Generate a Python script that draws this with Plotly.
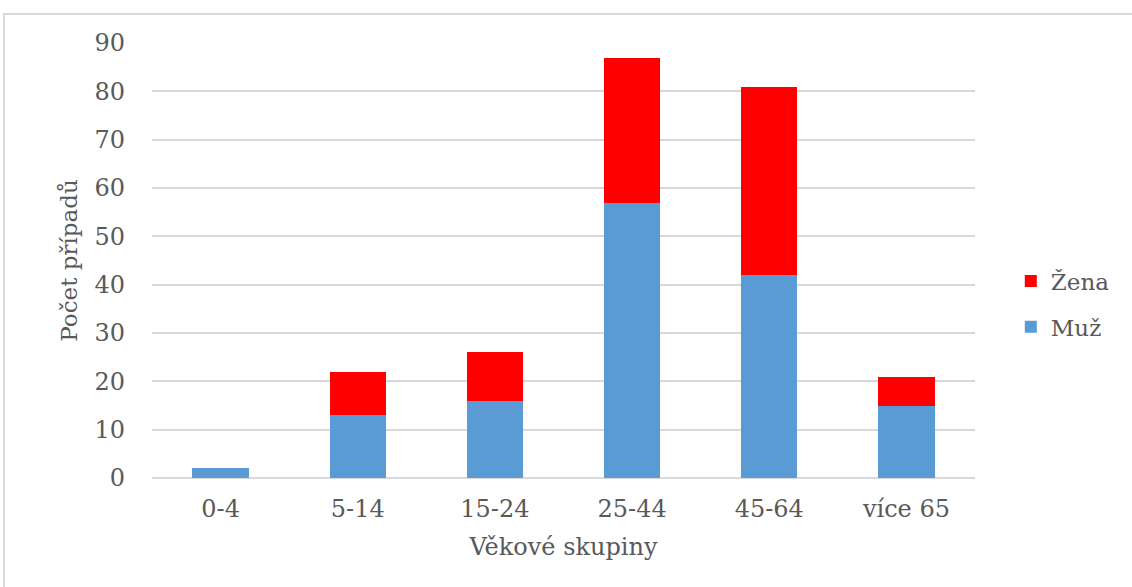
import plotly.graph_objects as go

# Age groups and number of cases by sex
age_groups = ["0-4", "5-14", "15-24", "25-44", "45-64", "více 65"]
muz = [2, 13, 16, 57, 42, 15]
zena = [0, 9, 10, 30, 39, 6]

text_color = "#595959"
grid_color = "#D9D9D9"
serif = "DejaVu Serif"

fig = go.Figure()
fig.add_trace(go.Bar(
    x=age_groups, y=muz, name="Muž", legendgroup="m", legendrank=2,
    marker=dict(color="#5B9BD5", line=dict(width=0)),
))
fig.add_trace(go.Bar(
    x=age_groups, y=zena, name="Žena", legendgroup="z", legendrank=1,
    marker=dict(color="#FF0000", line=dict(width=0)),
))

fig.update_layout(
    width=1132, height=587,
    barmode="stack",
    bargap=0.59,
    plot_bgcolor="white",
    paper_bgcolor="white",
    margin=dict(l=152, r=157, t=43, b=109),
    font=dict(family=serif, color=text_color, size=24),
    legend=dict(
        x=1.0435, y=0.40, xanchor="left", yanchor="middle",
        traceorder="grouped", tracegroupgap=13,
        font=dict(family=serif, size=23, color=text_color),
        itemwidth=30,
    ),
    xaxis=dict(
        title=dict(text="Věkové skupiny", font=dict(family=serif, size=24), standoff=16),
        showgrid=False, showline=False, ticks="",
        ticklabelstandoff=14,
        tickfont=dict(family=serif, size=24),
    ),
    yaxis=dict(
        title=dict(text="Počet případů", font=dict(family=serif, size=23), standoff=10),
        range=[0, 90], dtick=10,
        showgrid=True, gridcolor=grid_color, gridwidth=1.5,
        zeroline=True, zerolinecolor=grid_color, zerolinewidth=1.5,
        showline=False, ticks="",
        ticklabelstandoff=26,
        tickfont=dict(family=serif, size=24),
    ),
    shapes=[dict(
        type="rect", xref="paper", yref="paper",
        x0=-0.1798, x1=1.25, y0=-0.3, y1=1.0667,
        line=dict(color="#D9D9D9", width=2),
        fillcolor="rgba(0,0,0,0)", layer="below",
    )],
)

fig.write_html("out.html")
